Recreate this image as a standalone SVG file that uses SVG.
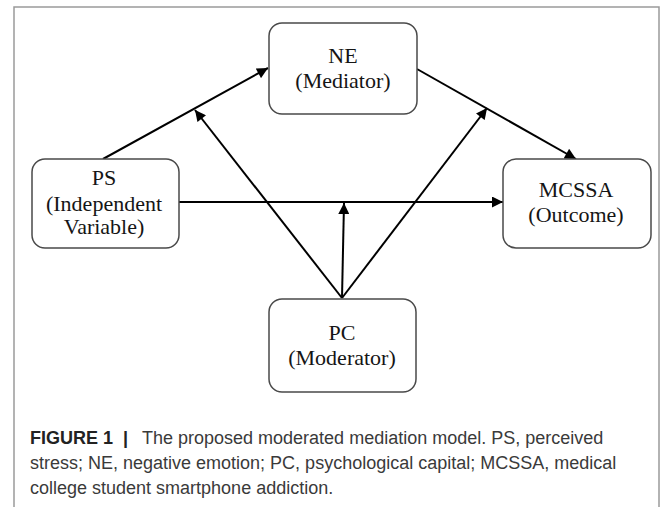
<svg xmlns="http://www.w3.org/2000/svg" width="668" height="507" viewBox="0 0 668 507">
<defs>
<style>
.frame{fill:none;stroke:#9a9a9a;stroke-width:1.5}
.box{fill:#fff;stroke:#4a4a4a;stroke-width:1.5}
.lbl{font-family:"Liberation Serif","Times New Roman",serif;font-size:22px;fill:#151515;text-anchor:middle}
.edge{fill:none;stroke:#000;stroke-width:2}
.cap{font-family:"Liberation Sans",Arial,sans-serif;font-size:18px;fill:#3a3a3a}
.capb{font-family:"Liberation Sans",Arial,sans-serif;font-size:18px;font-weight:bold;fill:#222}
</style>
<marker id="ahb" viewBox="0 0 10 10" refX="10" refY="5" markerWidth="12" markerHeight="11" markerUnits="userSpaceOnUse" orient="auto">
<path d="M0,0 L10,5 L0,10 z" fill="#000"/>
</marker>
</defs>
<rect width="668" height="507" fill="#fff"/>
<path class="frame" d="M14,507 V7 H659 V507"/>
<g id="connectors">
<line class="edge" x1="103" y1="159" x2="268" y2="68" marker-end="url(#ahb)"/>
<line class="edge" x1="179" y1="202" x2="503" y2="202" marker-end="url(#ahb)"/>
<line class="edge" x1="417" y1="69" x2="576" y2="159" marker-end="url(#ahb)"/>
<line class="edge" x1="342" y1="298" x2="195" y2="110" marker-end="url(#ahb)"/>
<line class="edge" x1="342" y1="298" x2="344" y2="203" marker-end="url(#ahb)"/>
<line class="edge" x1="342" y1="298" x2="487" y2="108" marker-end="url(#ahb)"/>
</g>
<g id="node-ne">
<rect class="box" x="269" y="23" width="148" height="91" rx="13"/>
<text class="lbl" x="343" y="63">NE</text>
<text class="lbl" x="343" y="88">(Mediator)</text>
</g>
<g id="node-ps">
<rect class="box" x="32" y="159" width="147" height="89" rx="13"/>
<text class="lbl" x="104" y="185">PS</text>
<text class="lbl" x="104" y="211">(Independent</text>
<text class="lbl" x="104" y="234">Variable)</text>
</g>
<g id="node-mcssa">
<rect class="box" x="503" y="159" width="148" height="89" rx="13"/>
<text class="lbl" x="576" y="197">MCSSA</text>
<text class="lbl" x="576" y="222">(Outcome)</text>
</g>
<g id="node-pc">
<rect class="box" x="269" y="299" width="147" height="93" rx="13"/>
<text class="lbl" x="342" y="340">PC</text>
<text class="lbl" x="342" y="365">(Moderator)</text>
</g>
<g id="caption">
<text class="capb" x="30" y="444">FIGURE 1</text>
<text class="capb" x="123" y="444">|</text>
<text class="cap" x="142" y="444">The proposed moderated mediation model. PS, perceived</text>
<text class="cap" x="30" y="469">stress; NE, negative emotion; PC, psychological capital; MCSSA, medical</text>
<text class="cap" x="30" y="494">college student smartphone addiction.</text>
</g>
</svg>
